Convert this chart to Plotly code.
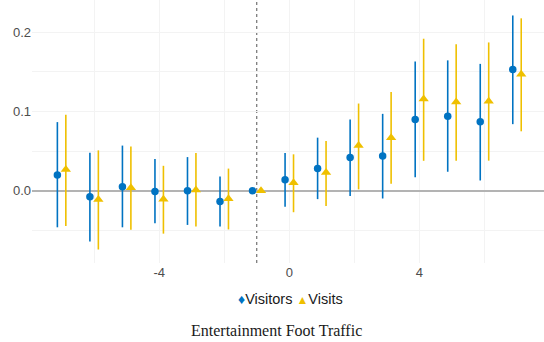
import plotly.graph_objects as go

# Event time relative to opening
event_time = [-7, -6, -5, -4, -3, -2, -1, 0, 1, 2, 3, 4, 5, 6, 7]

# Visitors: point estimates and 95% CI bounds
visitors_est = [0.020, -0.0075, 0.005, -0.001, 0.000, -0.0134, 0.0, 0.014, 0.028, 0.042, 0.044, 0.090, 0.094, 0.087, 0.153]
visitors_lo = [-0.046, -0.064, -0.046, -0.041, -0.043, -0.045, None, -0.020, -0.0105, -0.0067, -0.0097, 0.017, 0.024, 0.013, 0.084]
visitors_hi = [0.0866, 0.048, 0.057, 0.040, 0.0425, 0.018, None, 0.0475, 0.067, 0.090, 0.097, 0.163, 0.1644, 0.160, 0.221]

# Visits: point estimates and 95% CI bounds
visits_est = [0.027, -0.011, 0.004, -0.0105, 0.001, -0.010, 0.0, 0.010, 0.023, 0.057, 0.067, 0.1156, 0.112, 0.113, 0.147]
visits_lo = [-0.0445, -0.074, -0.049, -0.054, -0.045, -0.0487, None, -0.027, -0.019, 0.0018, 0.0088, 0.0378, 0.038, 0.038, 0.075]
visits_hi = [0.096, 0.051, 0.056, 0.0315, 0.0475, 0.028, None, 0.046, 0.0627, 0.110, 0.1245, 0.1917, 0.1846, 0.187, 0.2174]

x_tick_vals = [-4, 0, 4]
x_tick_text = ["-4", "0", "4"]
y_tick_vals = [0.0, 0.1, 0.2]

BLUE = "#0073C2"
YELLOW = "#EFC000"
DODGE = 0.13
GRID = "#f3f3f3"


def err_parts(est, lo, hi):
    up = [(h - e) if h is not None else 0 for e, h in zip(est, hi)]
    down = [(e - l) if l is not None else 0 for e, l in zip(est, lo)]
    return up, down


v_up, v_down = err_parts(visitors_est, visitors_lo, visitors_hi)
s_up, s_down = err_parts(visits_est, visits_lo, visits_hi)

fig = go.Figure()
fig.add_trace(go.Scatter(
    x=[t - DODGE for t in event_time], y=visitors_est, mode="markers", name="Visitors",
    marker=dict(symbol="circle", size=7.5, color=BLUE),
    error_y=dict(type="data", array=v_up, arrayminus=v_down, width=0, thickness=1.6, color=BLUE),
))
fig.add_trace(go.Scatter(
    x=[t + DODGE for t in event_time], y=visits_est, mode="markers", name="Visits",
    marker=dict(symbol="triangle-up", size=9, color=YELLOW),
    error_y=dict(type="data", array=s_up, arrayminus=s_down, width=0, thickness=1.6, color=YELLOW),
))

# dotted reference line at the period before treatment
fig.add_shape(type="line", x0=-1, x1=-1, y0=0, y1=1, xref="x", yref="paper",
              line=dict(color="#555555", width=1, dash="dot"), layer="below")

# compact key below the axis
legend_text = (f'<span style="color:{BLUE};font-size:14px">\u2666</span>Visitors '
               f'<span style="color:{YELLOW};font-size:12px">\u25B2</span>Visits')
fig.add_annotation(text=legend_text, x=0.505, y=-0.137, xref="paper", yref="paper",
                   showarrow=False, xanchor="center", yanchor="middle",
                   font=dict(family="Liberation Sans", size=14.5, color="#1a1a1a"))

fig.add_annotation(text="Entertainment Foot Traffic", x=0.478, y=-0.256, xref="paper", yref="paper",
                   showarrow=False, xanchor="center", yanchor="middle",
                   font=dict(family="Liberation Serif", size=16, color="#1a1a1a"))

fig.update_layout(
    width=544, height=342,
    margin=dict(l=32, r=0, t=0, b=79),
    plot_bgcolor="white", paper_bgcolor="white",
    font=dict(family="Liberation Sans", size=13, color="#4D4D4D"),
    showlegend=False,
    xaxis=dict(range=[-7.91, 7.83], tickvals=x_tick_vals, ticktext=x_tick_text,
               showgrid=True, gridcolor=GRID, gridwidth=1, zeroline=False,
               showline=False, ticks="",
               minor=dict(dtick=2, tick0=0, showgrid=True, gridcolor=GRID, gridwidth=1)),
    yaxis=dict(range=[-0.091, 0.2405], tickvals=y_tick_vals, tickformat=".1f",
               showgrid=True, gridcolor=GRID, gridwidth=1,
               zeroline=True, zerolinecolor="#b3b3b3", zerolinewidth=2,
               showline=False, ticks="",
               minor=dict(dtick=0.05, tick0=0, showgrid=True, gridcolor=GRID, gridwidth=1)),
)

fig.write_html("out.html")
